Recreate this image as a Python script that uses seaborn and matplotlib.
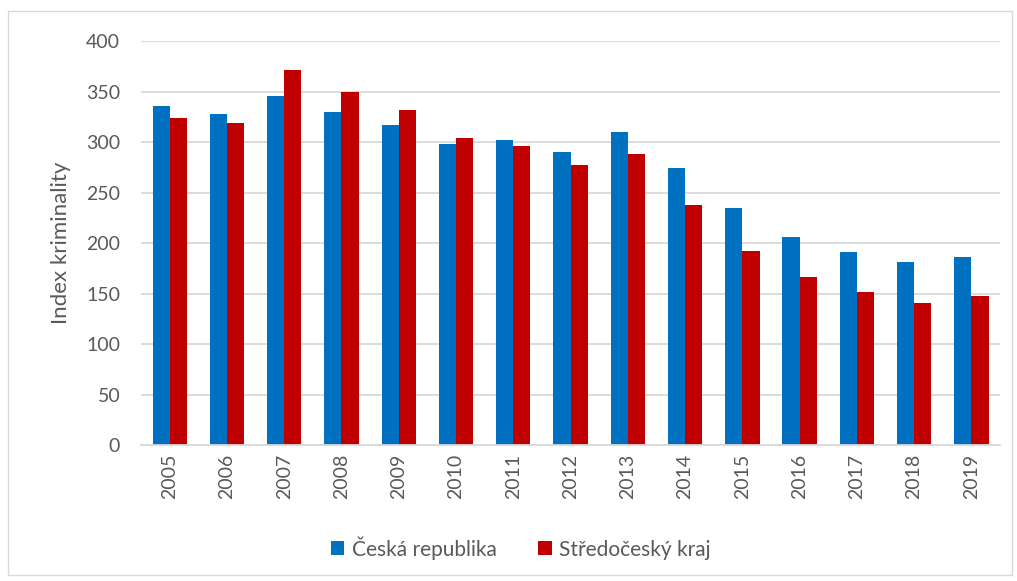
import matplotlib
matplotlib.use("Agg")
import matplotlib.pyplot as plt
import seaborn as sns
import pandas as pd
from matplotlib.patches import Rectangle

years = ["2005", "2006", "2007", "2008", "2009", "2010", "2011", "2012",
         "2013", "2014", "2015", "2016", "2017", "2018", "2019"]
cr_values = [336, 328, 346, 330, 317, 298, 302, 290, 310, 274, 235, 206, 191, 181, 186]
sc_values = [324, 319, 371, 350, 332, 304, 296, 277, 288, 238, 192, 166, 152, 141, 148]
series_names = ["Česká republika", "Středočeský kraj"]
y_ticks = [0, 50, 100, 150, 200, 250, 300, 350, 400]

df = pd.DataFrame({
    "Rok": years * 2,
    "Index": cr_values + sc_values,
    "Řada": [series_names[0]] * len(years) + [series_names[1]] * len(years),
})

sns.set_style("white")
plt.rcParams["font.family"] = ["Lato", "DejaVu Sans"]
text_color = "#595959"

fig = plt.figure(figsize=(10.17, 5.81), dpi=100)
ax = fig.add_axes([0.1387, 0.234, 0.8446, 0.6954])

sns.barplot(data=df, x="Rok", y="Index", hue="Řada",
            palette=["#0070C0", "#C00000"], width=0.6, ax=ax,
            saturation=1, edgecolor="none", linewidth=0)

ax.set_ylim(0, 400)
ax.set_yticks(y_ticks)
ax.set_yticklabels([str(t) for t in y_ticks])
ax.set_xlim(-0.5, len(years) - 0.5)
ax.grid(axis="y", color="#D9D9D9", linewidth=1.3)
ax.set_axisbelow(True)
for s in ["top", "right", "left"]:
    ax.spines[s].set_visible(False)
ax.spines["bottom"].set_color("#D9D9D9")
ax.spines["bottom"].set_linewidth(1.3)
ax.tick_params(axis="both", length=0, labelsize=14, labelcolor=text_color)
ax.tick_params(axis="y", pad=15)
ax.tick_params(axis="x", pad=6)
for lbl in ax.get_xticklabels():
    lbl.set_rotation(90)
ax.set_xlabel("")
ax.set_ylabel("Index kriminality", fontsize=16, color=text_color, labelpad=11)

handles, labels = ax.get_legend_handles_labels()
ax.get_legend().remove()
fig.legend(handles, labels, loc="center", bbox_to_anchor=(0.512, 0.057),
           ncol=2, frameon=False, fontsize=15, labelcolor=text_color,
           handlelength=0.65, handleheight=0.65, handletextpad=0.35,
           columnspacing=2.0)

fig.patches.append(Rectangle((8 / 1017, 6 / 581), 1004 / 1017, 564 / 581,
                             transform=fig.transFigure, fill=False,
                             edgecolor="#D9D9D9", linewidth=1))

fig.savefig("out.png", dpi=100, facecolor="white")
